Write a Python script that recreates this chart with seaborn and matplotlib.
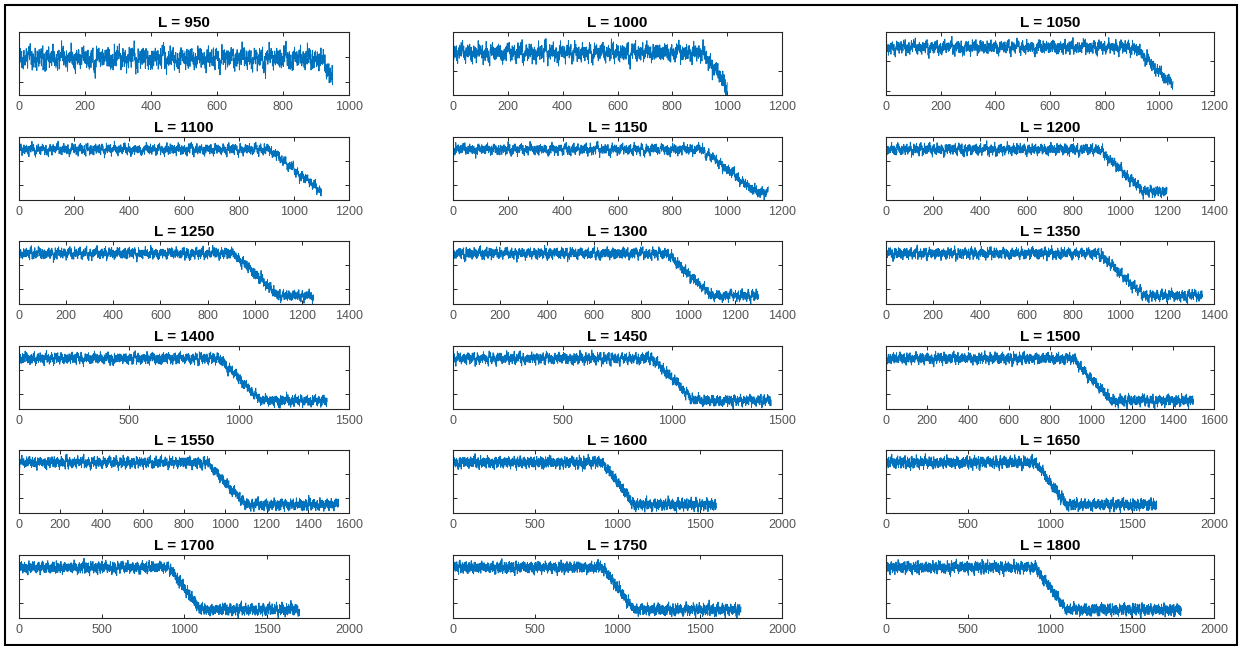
import numpy as np
import pandas as pd
import seaborn as sns
import matplotlib.pyplot as plt
from matplotlib.patches import Rectangle
from matplotlib.ticker import MultipleLocator

# =========================================================
# 1. DATA
# =========================================================
lengths = [950, 1000, 1050, 1100, 1150, 1200, 1250, 1300, 1350,
           1400, 1450, 1500, 1550, 1600, 1650, 1700, 1750, 1800]

# x axis range and tick step of every panel
x_max = [1000, 1200, 1200, 1200, 1200, 1400, 1400, 1400, 1400,
         1500, 1500, 1600, 1600, 2000, 2000, 2000, 2000, 2000]
x_step = [200, 200, 200, 200, 200, 200, 200, 200, 200,
          500, 500, 200, 200, 500, 500, 500, 500, 500]

# y axis range and tick step of every panel
y_low = [0.35, 0.28, 0.17] + [0.07] * 15
y_high = [0.6] * 18
y_step = [0.1] + [0.2] * 17

# mean level: plateau, drop, floor
level_x = [0, 910, 1100, 2000]
level_y = [0.495, 0.495, 0.14, 0.14]

# fluctuation samples around the mean level
noise = [
    0.3, -1.2, 0.8, 1.9, -0.4, -0.9, 0.1, 1.3, -2.1, 0.6, -0.2, 0.9, -1.5, 0.4, 2.4, -0.7, -0.1, 1.1, -1.8, 0.2,
    -0.6, 1.6, 0.0, -1.1, 0.7, -2.5, 1.0, 0.5, -0.3, 1.4, -0.8, -1.4, 0.9, 2.0, -0.5, 0.2, -1.0, 0.6, 1.7, -2.2,
    0.4, -0.1, 1.2, -0.9, -1.6, 0.8, 0.3, -0.4, 2.7, -1.3, 0.1, 0.7, -0.6, -2.0, 1.5, 0.0, -0.8, 1.1, 0.5, -1.7,
    1.8, -0.3, -1.1, 0.6, 0.2, -0.5, 1.3, -2.3, 0.9, 0.4, -0.7, 1.9, -1.2, 0.1, -0.2, 2.2, -0.9, 0.3, -1.5, 0.8,
    -0.4, 1.0, -2.8, 0.5, 1.4, -0.6, -0.1, 0.7, -1.0, 2.1, 0.2, -1.8, 0.6, -0.3, 1.2, -0.8, 0.0, 1.6, -1.4, 0.3,
    -0.9, 0.5, 2.5, -1.3, 0.1, -0.5, 0.9, -2.0, 1.1, 0.4, -0.2, -1.1, 1.7, 0.0, -0.7, 0.8, -1.6, 1.3, 0.2, -0.4,
    1.5, -2.4, 0.6, -0.8, 0.3, 1.0, -0.1, -1.2, 2.3, -0.6, 0.7, -1.9, 0.2, 1.2, -0.3, -1.0, 0.5, 1.8, -0.5, -0.2,
    0.9, -1.4, 0.1, 2.0, -0.9, 0.4, -2.6, 0.8, -0.4, 1.1, 0.3, -0.7, 1.4, -1.5, 0.0, 0.6, -1.1, 2.6, -0.3, 0.2,
    -1.7, 0.7, -0.2, 1.3, -0.8, 0.5, 1.9, -1.2, -0.5, 0.1, -2.1, 1.0, 0.4, -0.6, 1.6, -0.1, -1.3, 0.8, 0.2, -0.9,
    2.2, -0.4, -1.0, 0.6, 1.2, -1.8, 0.3, -0.3, 0.9, -2.2, 1.4, 0.0, -0.6, 0.5, -1.4, 1.7, -0.2, 0.4, -0.8, 1.0,
    -1.1, 0.2, 1.5, -0.7, -1.9, 0.9, 0.1, -0.5, 2.4, -1.0, 0.6, -0.3, -1.6, 1.1, 0.3, -0.8, 0.7, -2.3, 1.3, 0.0,
    0.5, -1.2, 0.8, 1.8, -0.1, -0.9, 0.4, -1.5, 1.0, 0.2, -2.7, 1.2, -0.4, 0.6, 2.0, -0.6, -1.0, 0.3, 1.4, -0.2,
    -0.7, 1.6, -1.3, 0.1, 0.9, -0.5, -2.0, 0.7, 1.1, -0.3, 0.4, -1.7, 2.1, -0.8, 0.0, 1.3, -1.1, 0.5, -0.4, 0.8,
    1.9, -0.6, 0.2, -1.4, 0.6, 1.0, -2.4, 0.3, -0.2, 1.5, -0.9, 0.1, -1.2, 2.3, -0.5, 0.7, -0.1, -1.8, 1.2, 0.4,
    -1.0, 0.9, -0.3, 1.7, -1.6, 0.0, 0.5, -0.7, 2.5, -1.3, 0.8, 0.2, -0.4, -2.1, 1.1, 0.6, -0.9, 1.4, -0.2, 0.3,
]
fast_scale = 0.019   # sample-to-sample jitter
slow_scale = 0.011   # slower wander of the band

# =========================================================
# 2. BUILD SERIES
# =========================================================
noise_arr = np.array(noise)
N = len(noise_arr)
series = []
for k, L in enumerate(lengths):
    n = np.arange(1, L + 1)
    base = np.interp(n, level_x, level_y)
    fast = noise_arr[(np.arange(L) + 37 * k) % N]
    slow = noise_arr[(np.arange(L) // 9 + 11 * k) % N]
    series.append(pd.DataFrame({'n': n,
                                'value': base + fast_scale * fast + slow_scale * slow}))

# =========================================================
# 3. PLOT
# =========================================================
sns.set_theme(style="white")
plt.rcParams['font.family'] = ['Liberation Sans', 'DejaVu Sans']

W, H = 1243, 646
fig = plt.figure(figsize=(W / 100, H / 100), dpi=100)
fig.patch.set_facecolor('white')

col_left = [19, 453, 886]
col_width = [330, 329, 328]
row_top = [32, 137, 241, 346, 450, 555]
ax_height = 63

line_color = '#0072BD'
edge_color = '#262626'

for k, L in enumerate(lengths):
    r, c = divmod(k, 3)
    rect = [col_left[c] / W, (H - row_top[r] - ax_height) / H,
            col_width[c] / W, ax_height / H]
    ax = fig.add_axes(rect)

    sns.lineplot(data=series[k], x='n', y='value', ax=ax, estimator=None,
                 color=line_color, linewidth=0.7)

    ax.set_xlim(0, x_max[k])
    ax.set_ylim(y_low[k], y_high[k])
    ax.xaxis.set_major_locator(MultipleLocator(x_step[k]))
    ax.yaxis.set_major_locator(MultipleLocator(y_step[k]))
    ax.set_xlabel("")
    ax.set_ylabel("")
    ax.set_yticklabels([])

    ax.tick_params(axis='both', direction='in', length=3, width=0.7,
                   top=True, right=True, bottom=True, left=True,
                   colors=edge_color)
    ax.tick_params(axis='x', labelsize=9, labelcolor='#555555', pad=4)
    for side in ax.spines.values():
        side.set_color(edge_color)
        side.set_linewidth(0.8)

    ax.set_title(f"L = {L}", fontsize=11, fontweight='bold', pad=3.5,
                 color='black')

# outer frame of the picture
fig.patches.append(Rectangle((5 / W, 1 / H), 1232 / W, 640 / H,
                             transform=fig.transFigure, fill=False,
                             edgecolor='black', linewidth=1.5))

fig.savefig("out.png", dpi=100)
